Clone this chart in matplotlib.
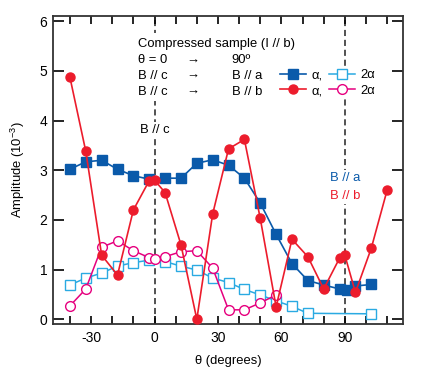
import matplotlib
matplotlib.use("Agg")
import matplotlib.pyplot as plt
from matplotlib.lines import Line2D
from matplotlib.ticker import MultipleLocator

plt.rcParams["font.family"] = ["Liberation Sans", "DejaVu Sans"]
plt.rcParams["font.size"] = 9.4
plt.rcParams["axes.unicode_minus"] = False
plt.rcParams["mathtext.default"] = "regular"

COLORS = {"a1": "#0a5aaa", "b1": "#ec1c2c", "a2": "#2aaae2", "b2": "#e6007e"}

# B // a, alpha (filled squares)
theta_a1 = [-40, -32.5, -25, -17.5, -10, -2.5, 5, 12.5, 20, 27.5, 35, 42.5,
            50, 57.5, 65, 72.5, 80, 87.5, 91, 95, 102.5]
amp_a1 = [3.02, 3.17, 3.20, 3.02, 2.89, 2.82, 2.84, 2.84, 3.14, 3.21, 3.10,
          2.84, 2.34, 1.71, 1.12, 0.78, 0.69, 0.61, 0.59, 0.67, 0.70]

# B // b, alpha (filled circles)
theta_b1 = [-40, -32.5, -25, -17.5, -10, -2.5, 0, 5, 12.5, 20, 27.5, 35, 42.5,
            50, 57.5, 65, 72.5, 80, 87.5, 90, 95, 102.5, 110]
amp_b1 = [4.87, 3.38, 1.29, 0.89, 2.20, 2.79, 2.80, 2.55, 1.50, 0.00, 2.12,
          3.43, 3.62, 2.03, 0.25, 1.61, 1.26, 0.61, 1.23, 1.29, 0.54, 1.43, 2.60]

# B // a, 2 alpha (open squares)
theta_a2 = [-40, -32.5, -25, -17.5, -10, -2.5, 5, 12.5, 20, 27.5, 35, 42.5,
            50, 57.5, 65, 72.5, 102.5]
amp_a2 = [0.69, 0.83, 0.93, 1.07, 1.14, 1.19, 1.16, 1.07, 0.99, 0.83, 0.74,
          0.60, 0.49, 0.37, 0.26, 0.12, 0.11]

# B // b, 2 alpha (open circles)
theta_b2 = [-40, -32.5, -25, -17.5, -10, -2.5, 0, 5, 12.5, 20, 27.5, 35, 42.5,
            50, 57.5]
amp_b2 = [0.27, 0.61, 1.45, 1.58, 1.38, 1.24, 1.21, 1.26, 1.36, 1.38, 1.03,
          0.19, 0.19, 0.33, 0.49]

fig = plt.figure(figsize=(4.36, 3.77), dpi=100)
ax = fig.add_axes([0.1216, 0.1406, 0.8027, 0.817])

# reference lines at theta = 0 and 90
for xv in (0, 90):
    ax.axvline(xv, color="#222222", lw=1.1, ls=(0, (4, 2.5)), zorder=1)

ax.plot(theta_a2, amp_a2, color=COLORS["a2"], lw=1.1, marker="s", ms=7,
        mfc="white", mec=COLORS["a2"], mew=1.0, zorder=3)
ax.plot(theta_b2, amp_b2, color=COLORS["b2"], lw=1.1, marker="o", ms=7,
        mfc="white", mec=COLORS["b2"], mew=1.0, zorder=3)
ax.plot(theta_a1, amp_a1, color=COLORS["a1"], lw=1.2, marker="s", ms=7,
        mec=COLORS["a1"], zorder=4)
ax.plot(theta_b1, amp_b1, color=COLORS["b1"], lw=1.2, marker="o", ms=6.5,
        mec=COLORS["b1"], zorder=5)

ax.set_xlim(-48, 117.5)
ax.set_ylim(-0.095, 6.105)
ax.xaxis.set_major_locator(MultipleLocator(30))
ax.xaxis.set_minor_locator(MultipleLocator(10))
ax.yaxis.set_major_locator(MultipleLocator(1))
ax.tick_params(axis="x", which="both", direction="in", top=True, length=6,
               width=1.2, pad=5, labelsize=10)
ax.tick_params(axis="y", which="both", direction="in", right=True, length=8,
               width=1.2, pad=4, labelsize=10)
for s in ax.spines.values():
    s.set_linewidth(1.3)
    s.set_color("#333333")

ax.set_xlabel("\u03b8 (degrees)", labelpad=7)
ax.set_ylabel("Amplitude (10$^{-3}$)", labelpad=9)

# annotation block
bb = dict(fc="white", ec="none", pad=1.5)
ls = 1.4
ax.text(-8, 5.55, "Compressed sample (I // b)", ha="left", va="center",
        bbox=dict(fc="white", ec="none", pad=3), zorder=6)
ax.text(-8, 5.33, "\u03b8 = 0\nB // c\nB // c", ha="left", va="top",
        linespacing=ls, bbox=dict(fc="white", ec="none", pad=2.5), zorder=6)
ax.text(15, 5.33, "\u2192\n\u2192\n\u2192", ha="left", va="top",
        linespacing=ls, zorder=7)
ax.text(36.5, 5.33, "90\u00ba\nB // a\nB // b", ha="left", va="top",
        linespacing=ls, zorder=7)

handles = [
    Line2D([], [], color=COLORS["a1"], lw=1.2, marker="s", ms=7),
    Line2D([], [], color=COLORS["b1"], lw=1.2, marker="o", ms=6.5),
    Line2D([], [], color=COLORS["a2"], lw=1.1, marker="s", ms=7, mfc="white"),
    Line2D([], [], color=COLORS["b2"], lw=1.1, marker="o", ms=7, mfc="white"),
]
leg = ax.legend(handles, ["\u03b1,", "\u03b1,", "2\u03b1", "2\u03b1"], ncol=2,
                loc="upper left", bbox_to_anchor=(0.627, 0.853),
                frameon=True, facecolor="white", edgecolor="none", framealpha=1,
                handlelength=2.0, handletextpad=0.4, columnspacing=0.5,
                labelspacing=0.28, borderpad=0.1, fontsize=9.4)
leg.set_zorder(7)

ax.text(0, 3.80, "B // c", ha="center", va="center", bbox=bb, zorder=6)
ax.text(90, 2.84, "B // a", ha="center", va="center", color=COLORS["a1"],
        bbox=bb, zorder=6)
ax.text(90, 2.49, "B // b", ha="center", va="center", color=COLORS["b1"],
        bbox=bb, zorder=6)

fig.savefig("out.png", dpi=100)
